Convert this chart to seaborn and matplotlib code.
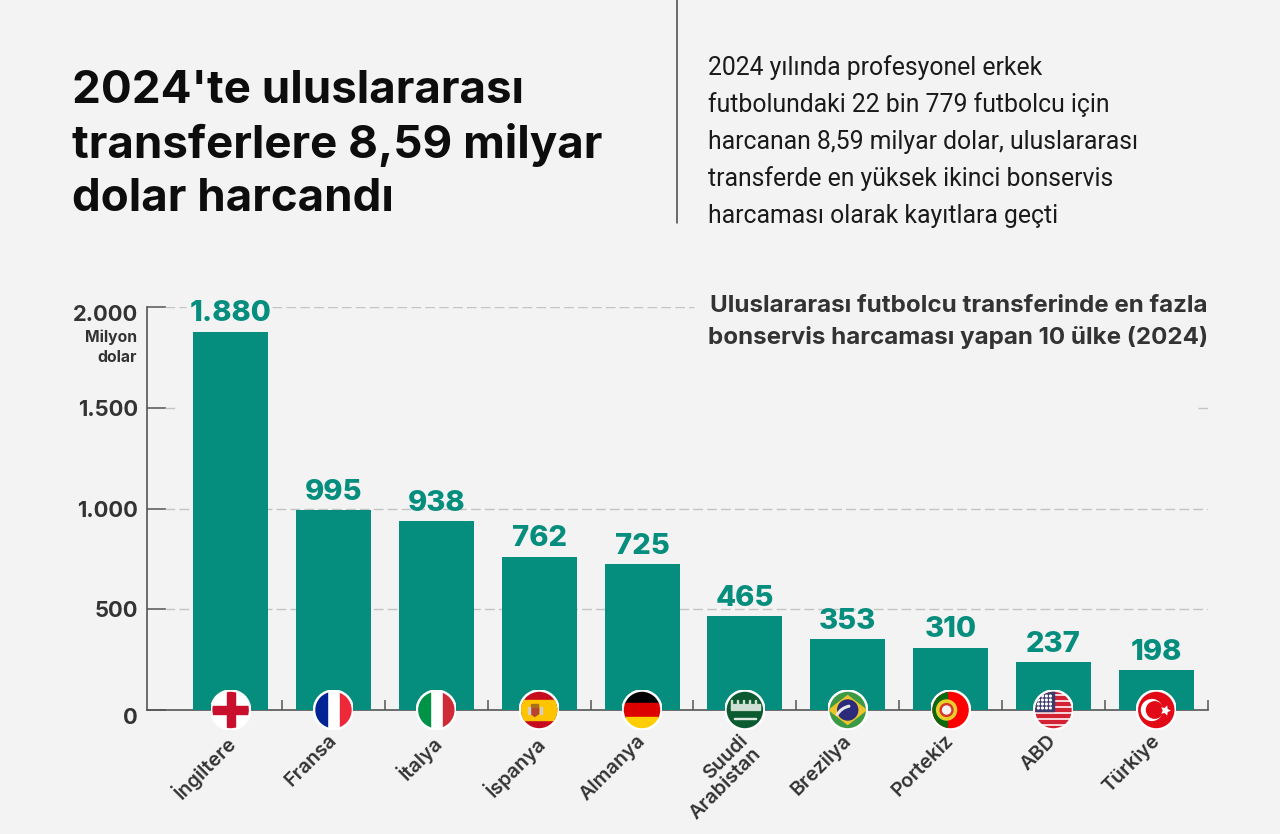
import matplotlib
matplotlib.use('Agg')
import matplotlib.pyplot as plt
from matplotlib.patches import Circle, Rectangle, Polygon, Wedge
from matplotlib.transforms import ScaledTranslation
import seaborn as sns

# veriler
countries = ['İngiltere', 'Fransa', 'İtalya', 'İspanya', 'Almanya',
             'Suudi\nArabistan', 'Brezilya', 'Portekiz', 'ABD', 'Türkiye']
values = [1880, 995, 938, 762, 725, 465, 353, 310, 237, 198]
value_labels = ['1.880', '995', '938', '762', '725', '465', '353', '310', '237', '198']
y_ticks = [0, 500, 1000, 1500, 2000]
y_tick_labels = ['0', '500', '1.000', '1.500', '2.000']

title = "2024'te uluslararası\ntransferlere 8,59 milyar\ndolar harcandı"
intro = ['2024 yılında profesyonel erkek',
         'futbolundaki 22 bin 779 futbolcu için',
         'harcanan 8,59 milyar dolar, uluslararası',
         'transferde en yüksek ikinci bonservis',
         'harcaması olarak kayıtlara geçti']
chart_title = ['Uluslararası futbolcu transferinde en fazla',
               'bonservis harcaması yapan 10 ülke (2024)']

BG = '#f3f3f3'
TEAL = '#058d7d'
DARK = '#333333'
AXIS = '#555555'
W, H = 1280, 834

sns.set_theme(style='white')
plt.rcParams['font.family'] = ['Inter', 'DejaVu Sans']
plt.rcParams['font.weight'] = 'bold'


def px(x, y):
    # piksel -> figur koordinati (y yukaridan)
    return x / W, 1 - y / H


fig = plt.figure(figsize=(W / 100, H / 100), dpi=100, facecolor=BG)
left, bottom = px(146.5, 710)
_, top = px(0, 307.5)
ax_w = 1208 - 146.5
ax = fig.add_axes([left, bottom, ax_w / W, top - bottom], facecolor='none')

sns.barplot(x=countries, y=values, color=TEAL, saturation=1, width=0.729, linewidth=0, ax=ax, zorder=3)
ax.set_xlim(-0.818, 9.503)
ax.set_ylim(0, 2000)

# izgara cizgileri
dash = (0, (7, 3))
grid_color = '#c4c4c4'
grid_trans = ax.get_yaxis_transform()
grid_parts = [(2000, 165, 186), (2000, 272, 694), (1500, 165, 176), (1500, 1198, 1208),
              (1000, 165, 1208), (500, 165, 1208)]
for yy, x0, x1 in grid_parts:
    ax.hlines(yy, (x0 - 146.5) / ax_w, (x1 - 146.5) / ax_w, transform=grid_trans,
              color=grid_color, lw=1, linestyles=dash, zorder=1)

for name in ['top', 'right']:
    ax.spines[name].set_visible(False)
for name in ['left', 'bottom']:
    ax.spines[name].set_color(AXIS)
    ax.spines[name].set_linewidth(1.2)
    ax.spines[name].set_zorder(2)

ax.set_yticks(y_ticks)
ax.set_yticklabels(y_tick_labels)
ax.tick_params(axis='y', left=True, direction='in', length=14, width=1.1, color=AXIS, pad=6,
               labelsize=15.8, labelcolor=DARK)
up = ScaledTranslation(0, 2.5 / 100, fig.dpi_scale_trans)
for lab, val in zip(ax.get_yticklabels(), y_ticks):
    lab.set_fontweight('bold')
    if val in (0, 2000):
        lab.set_va('top')
        lab.set_transform(lab.get_transform() + up)

ax.set_xticks(range(len(countries)))
ax.set_xticklabels(countries, rotation=45, ha='right', va='top', rotation_mode='anchor',
                   fontsize=14.2, color=DARK, fontweight='semibold', linespacing=1.05, multialignment='right')
ax.set_xticks([i + 0.5 for i in range(len(countries))], minor=True)
ax.tick_params(axis='x', which='major', length=0, pad=15.5)
ax.tick_params(axis='x', which='minor', bottom=True, direction='in', length=7, width=1.1, color=AXIS)
shift = ScaledTranslation(-6 / 100, 0, fig.dpi_scale_trans)
for lab in ax.get_xticklabels():
    lab.set_transform(lab.get_transform() + shift)

ax.set_xlabel('')
ax.set_ylabel('')

# bar etiketleri
ax.bar_label(ax.containers[0], labels=value_labels, padding=3, color=TEAL,
             fontsize=21, fontweight='heavy', zorder=5)

# birim
fig.text(*px(137, 337), 'Milyon', ha='right', va='center', fontsize=11.3, color=DARK)
fig.text(*px(137, 358), 'dolar', ha='right', va='center', fontsize=11.3, color=DARK)

# basliklar
fig.text(*px(72, 145), title, ha='left', va='center', fontsize=32.9, color='#0d0d0d',
         fontweight='bold', linespacing=1.32)
for i, line in enumerate(intro):
    fig.text(*px(708, 67.5 + 37 * i), line, ha='left', va='center', fontsize=17.85, color='#1a1a1a',
             family='Roboto', fontweight='normal')
for i, line in enumerate(chart_title):
    fig.text(*px(1208, 306.5 + 31 * i), line, ha='right', va='center', fontsize=17.4, color=DARK,
             fontweight='bold')

# dikey ayirici
fig.add_artist(plt.Line2D([677 / W, 677 / W], [1, 1 - 223 / H], color='#444444', lw=1.1))


def flag_england(a):
    a.add_patch(Rectangle((-1, -1), 2, 2, color='white'))
    a.add_patch(Rectangle((-1, -0.2), 2, 0.4, color='#c8102e'))
    a.add_patch(Rectangle((-0.2, -1), 0.4, 2, color='#c8102e'))


def flag_france(a):
    a.add_patch(Rectangle((-1, -1), 2, 2, color='white'))
    a.add_patch(Rectangle((-1, -1), 0.67, 2, color='#002395'))
    a.add_patch(Rectangle((0.33, -1), 0.67, 2, color='#ed2939'))


def flag_italy(a):
    a.add_patch(Rectangle((-1, -1), 2, 2, color='white'))
    a.add_patch(Rectangle((-1, -1), 0.67, 2, color='#009246'))
    a.add_patch(Rectangle((0.33, -1), 0.67, 2, color='#ce2b37'))


def flag_spain(a):
    a.add_patch(Rectangle((-1, -1), 2, 2, color='#c60b1e'))
    a.add_patch(Rectangle((-1, -0.5), 2, 1, color='#ffc400'))
    a.add_patch(Polygon([(-0.42, 0.12), (-0.02, 0.12), (-0.02, -0.18), (-0.22, -0.32), (-0.42, -0.18)],
                        color='#b8432f'))
    a.add_patch(Rectangle((-0.4, 0.14), 0.36, 0.16, color='#a8701a'))
    a.add_patch(Rectangle((-0.56, -0.22), 0.1, 0.38, color='#d6cfc0'))
    a.add_patch(Rectangle((0.03, -0.22), 0.1, 0.38, color='#d6cfc0'))


def flag_germany(a):
    a.add_patch(Rectangle((-1, 0.33), 2, 0.67, color='black'))
    a.add_patch(Rectangle((-1, -0.33), 2, 0.66, color='#dd0000'))
    a.add_patch(Rectangle((-1, -1), 2, 0.67, color='#ffce00'))


def flag_saudi(a):
    a.add_patch(Rectangle((-1, -1), 2, 2, color='#0b5a30'))
    for k in range(15):
        h = 0.5 if k % 3 == 0 else 0.3
        a.add_patch(Rectangle((-0.7 + k * 0.1, 0.02), 0.05, h, color='#cfdfd4'))
    a.add_patch(Rectangle((-0.7, 0.08), 1.45, 0.05, color='#cfdfd4'))
    a.add_patch(Rectangle((-0.55, -0.47), 1.1, 0.06, color='#dfe9e2'))


def flag_brazil(a):
    a.add_patch(Rectangle((-1, -1), 2, 2, color='#3c9a46'))
    a.add_patch(Polygon([(-0.93, 0), (0, 0.72), (0.93, 0), (0, -0.72)], color='#ecc52a'))
    a.add_patch(Circle((0, 0), 0.5, color='#2c2a7a'))
    a.add_patch(Wedge((0.25, -0.7), 0.95, 100, 150, width=0.08, color='#e8e8e8'))


def flag_portugal(a):
    a.add_patch(Rectangle((-1, -1), 2, 2, color='#ff0000'))
    a.add_patch(Rectangle((-1, -1), 0.8, 2, color='#0b6a10'))
    a.add_patch(Circle((-0.2, 0), 0.5, color='#e8cf2a'))
    a.add_patch(Circle((-0.2, 0), 0.32, color='#d9342b'))
    a.add_patch(Circle((-0.2, 0), 0.2, color='#f4f4f4'))


def flag_usa(a):
    a.add_patch(Rectangle((-1, -1), 2, 2, color='white'))
    for k in range(7):
        a.add_patch(Rectangle((-1, 0.85 - k * 0.3), 2, 0.15, color='#d22234'))
    a.add_patch(Rectangle((-1, -0.05), 1.05, 1.05, color='#3c3b6e'))
    for c in range(4):
        for r in range(4):
            a.add_patch(Circle((-0.75 + 0.2 * c, 0.1 + 0.2 * r), 0.045, color='white'))


def flag_turkey(a):
    a.add_patch(Rectangle((-1, -1), 2, 2, color='#e30a17'))
    a.add_patch(Circle((-0.22, 0), 0.52, color='white'))
    a.add_patch(Circle((-0.08, 0), 0.41, color='#e30a17'))
    a.scatter([0.45], [0], marker=(5, 1, -90), s=60, color='white', linewidths=0)


flags = [flag_england, flag_france, flag_italy, flag_spain, flag_germany,
         flag_saudi, flag_brazil, flag_portugal, flag_usa, flag_turkey]

fig.canvas.draw()
size = 40
for i, draw in enumerate(flags):
    cx, cy = ax.transData.transform((i, 0))
    fa = fig.add_axes([(cx - size / 2) / W, (cy - size / 2) / H, size / W, size / H], facecolor='none')
    fa.set_xlim(-1, 1)
    fa.set_ylim(-1, 1)
    fa.axis('off')
    fa.add_patch(Circle((0, 0), 1, color='white', zorder=0))
    before = len(fa.patches)
    draw(fa)
    clip = Circle((0, 0), 0.91, transform=fa.transData)
    for art in list(fa.patches)[before:] + list(fa.collections):
        art.set_clip_path(clip)

fig.savefig('out.png', dpi=100, facecolor=BG)
